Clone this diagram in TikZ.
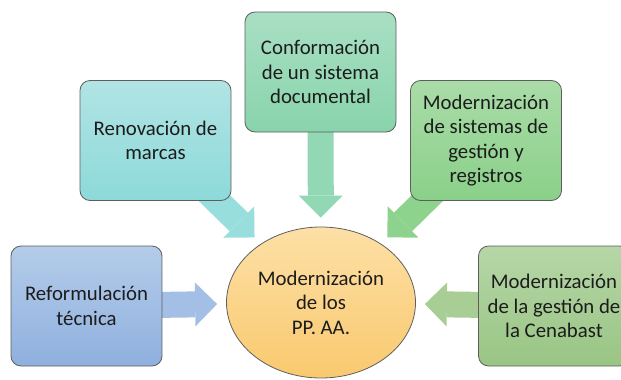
\documentclass[tikz,border=0pt]{standalone}
\usepackage{fontspec}
\setmainfont{Carlito}
\usetikzlibrary{calc, shapes, backgrounds, arrows.meta}

\definecolor{edge}{HTML}{5E5E5E}
\definecolor{ink}{HTML}{1C1C1C}
\definecolor{tecTop}{HTML}{B4CCEA}
\definecolor{tecBot}{HTML}{8FB0DE}
\definecolor{tecArr}{HTML}{A3BFE6}
\definecolor{marTop}{HTML}{B2E4E4}
\definecolor{marBot}{HTML}{8DD9DA}
\definecolor{marArr}{HTML}{98DEDD}
\definecolor{docTop}{HTML}{A9DFC4}
\definecolor{docBot}{HTML}{88D4AB}
\definecolor{docArr}{HTML}{93D8B4}
\definecolor{regTop}{HTML}{AADCA8}
\definecolor{regBot}{HTML}{8AD089}
\definecolor{regArr}{HTML}{8ED38D}
\definecolor{cenTop}{HTML}{B6D6A7}
\definecolor{cenBot}{HTML}{99C584}
\definecolor{cenArr}{HTML}{A8CD95}
\definecolor{coreTop}{HTML}{FDE0A6}
\definecolor{coreBot}{HTML}{F9C96F}

\begin{document}
\begin{tikzpicture}[x=1pt, y=-1pt,
    box/.style={draw=edge, line width=0.8pt, rounded corners=10pt,
      minimum width=151pt, minimum height=120pt, align=center,
      text=ink, font=\fontsize{20.8}{24.5}\selectfont},
    flow/.style={line width=26pt,
      -{Triangle[width=44pt, length=22pt, line width=0pt]},
      shorten >=9pt}
  ]
  \useasboundingbox (0,0) rectangle (621,380);

  % the five boxes round the centre
  \node[box, top color=tecTop, bottom color=tecBot] (tec) at (86.5,306)
    {Reformulación\\técnica};
  \node[box, top color=marTop, bottom color=marBot] (mar) at (155.5,140.5)
    {Renovación de\\marcas};
  \node[box, top color=docTop, bottom color=docBot] (doc) at (320.5,72)
    {Conformación\\de un sistema\\documental};
  \node[box, top color=regTop, bottom color=regBot] (reg) at (486,140.5)
    {Modernización\\de sistemas de\\gestión y\\registros};
  \node[box, top color=cenTop, bottom color=cenBot] (cen) at (554,306)
    {Modernización\\de la gestión de\\la Cenabast};

  % centre
  \node[ellipse, draw=edge, line width=0.8pt, minimum width=189pt,
    minimum height=151pt, align=center, text=ink,
    font=\fontsize{20.8}{24.5}\selectfont,
    top color=coreTop, bottom color=coreBot] (core) at (321,302.5)
    {Modernización\\de los\\PP. AA.};

  % block arrows, under the boxes
  \begin{scope}[on background layer]
    \draw[flow, tecArr] (tec.center) -- (core);
    \draw[flow, marArr] (mar.center) -- (core);
    \draw[flow, docArr] (doc.center) -- (core);
    \draw[flow, regArr] (reg.center) -- (core);
    \draw[flow, cenArr] (cen.center) -- (core);
  \end{scope}
\end{tikzpicture}
\end{document}
